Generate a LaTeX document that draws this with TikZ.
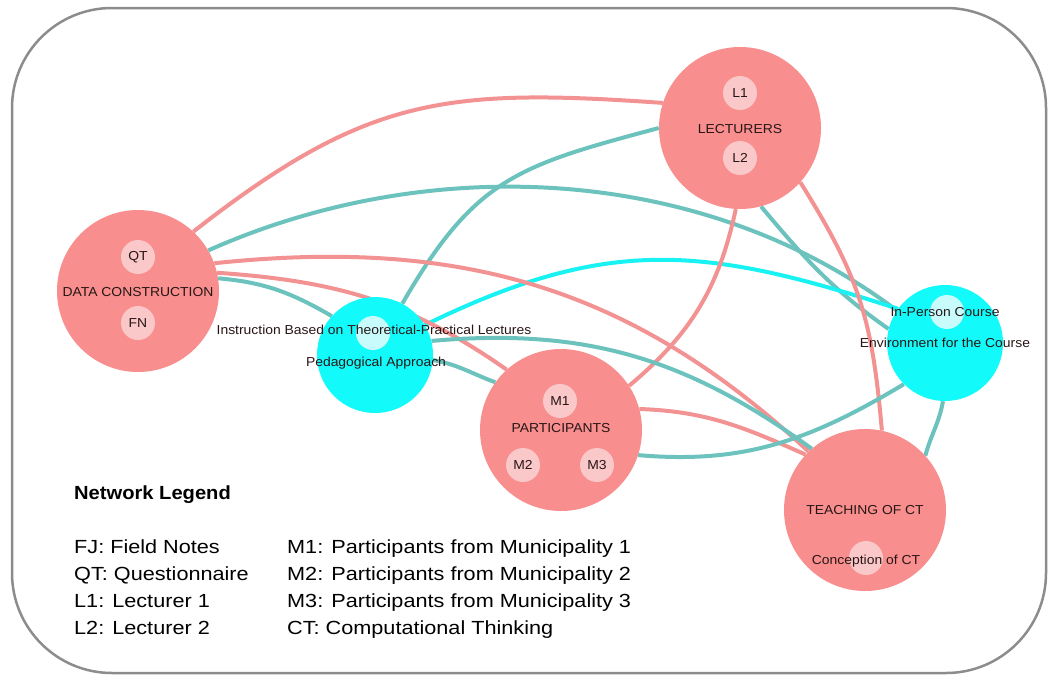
\documentclass[tikz,border=0pt]{standalone}
\usepackage{fontspec}
\setmainfont{Liberation Sans}
\newfontfamily\nodefont{Liberation Sans}[FakeStretch=1.07]
\newfontfamily\legfont{Liberation Sans}[FakeStretch=1.14]
\newfontfamily\legboldfont{Liberation Sans}[FakeStretch=1.06]
\usetikzlibrary{backgrounds}
\definecolor{salmon}{RGB}{248,142,142}
\definecolor{lpink}{RGB}{250,200,200}
\definecolor{cyanfill}{RGB}{18,250,250}
\definecolor{lcyan}{RGB}{200,252,252}
\definecolor{tealedge}{RGB}{108,194,189}
\definecolor{pinkedge}{RGB}{243,146,146}
\definecolor{cyanedge}{RGB}{25,242,242}
\definecolor{framegray}{RGB}{140,140,140}
\definecolor{labeltext}{RGB}{40,22,22}
\begin{document}
\begin{tikzpicture}[x=1pt,y=1pt,
  bignode/.style={circle,fill=salmon,minimum size=162pt,inner sep=0pt},
  cynode/.style={circle,fill=cyanfill,minimum size=116pt,inner sep=0pt},
  subpink/.style={circle,fill=lpink,minimum size=34pt,inner sep=0pt,text=labeltext,font=\nodefont\fontsize{13}{15}\selectfont},
  subcyan/.style={circle,fill=lcyan,minimum size=34pt,inner sep=0pt},
  lbl/.style={anchor=base,inner sep=0pt,text=labeltext,font=\nodefont\fontsize{13}{15}\selectfont},
  leg/.style={anchor=base west,inner sep=0pt,text=black,font=\legfont\fontsize{19}{22}\selectfont},
  legtitle/.style={anchor=base west,inner sep=0pt,text=black,font=\legboldfont\bfseries\fontsize{19}{22}\selectfont},
  tealline/.style={draw=tealedge,line width=4pt},
  pinkline/.style={draw=pinkedge,line width=4pt},
  cyanline/.style={draw=cyanedge,line width=4pt},
  frame/.style={draw=framegray,line width=2.5pt,rounded corners=100pt}
]
\useasboundingbox (0,0) rectangle (1056,-680);
\draw[frame] (12,-8) rectangle (1046,-673);

% main nodes
\node[bignode] (d) at (138,-291) {};
\node[bignode] (l) at (740,-128) {};
\node[cynode] (ped) at (375,-355) {};
\node[cynode] (ip) at (945,-343) {};
\node[bignode] (p) at (561,-430) {};
\node[bignode] (t) at (865,-510) {};

% sub nodes
\node[subpink] (qt) at (138,-257) {QT};
\node[subpink] (fn) at (138,-323) {FN};
\node[subpink] (l1) at (740,-93) {L1};
\node[subpink] (l2) at (740,-158) {L2};
\node[subpink] (m1) at (560,-401) {M1};
\node[subpink] (m2) at (523,-465) {M2};
\node[subpink] (m3) at (597,-465) {M3};
\node[subcyan] (pedsub) at (373,-333) {};
\node[subcyan] (ipsub) at (947,-312) {};
\node[subpink] (tsub) at (866,-558) {};

% labels
\node[lbl] (dlab) at (138,-296) {DATA CONSTRUCTION};
\node[lbl] (llab) at (740,-133) {LECTURERS};
\node[lbl] (plab) at (561,-432.5) {PARTICIPANTS};
\node[lbl] (tlab) at (865,-514) {TEACHING OF CT};
\node[lbl] (tcon) at (866,-564) {Conception of CT};
\node[lbl] (pedlab1) at (374,-334) {Instruction Based on Theoretical-Practical Lectures};
\node[lbl] (pedlab2) at (376,-366) {Pedagogical Approach};
\node[lbl] (iplab1) at (945,-316) {In-Person Course};
\node[lbl] (iplab2) at (945,-347.7) {Environment for the Course};

% edges
\begin{pgfonlayer}{background}
\draw[pinkline] (d.47) to[out=38,in=176,looseness=1.15] (l.162);
\draw[tealline] (d.30) to[out=24,in=143,looseness=0.9] (ip.146);
\draw[tealline] (d.9) to[out=-5,in=150] (ped.138);
\draw[tealline] (ped.62) to[out=60,in=195,looseness=1.2] (l.180);
\draw[tealline] (l.-75) to[out=-50,in=145] (ip.166);
\draw[cyanline] (ped.31) to[out=26,in=162,looseness=1.1] (ip.144);
\draw[pinkline] (d.20) to[out=6,in=137] (t.134);
\draw[pinkline] (d.13) to[out=-4,in=145] (p.132);
\draw[pinkline] (l.-93) to[out=-102,in=40] (p.33);
\draw[pinkline] (l.-42) to[out=-58,in=95,looseness=1.1] (t.78);
\draw[tealline] (ped.14) to[out=5,in=144] (t.131);
\draw[tealline] (ped.-5) to[out=-10,in=160] (p.144);
\draw[pinkline] (p.15) to[out=-2,in=156] (t.137);
\draw[tealline] (p.-18) to[out=-5,in=211] (ip.225);
\draw[tealline] (ip.-92) to[out=-100,in=75] (t.42);
\end{pgfonlayer}

% legend
\node[legtitle] (legtitle) at (74,-499) {Network Legend};
\node[leg] (lgfj) at (74,-553) {FJ: Field Notes};
\node[leg] (lgqt) at (74,-580) {QT: Questionnaire};
\node[leg] (lgl1) at (74,-607) {L1: Lecturer 1};
\node[leg] (lgl2) at (74,-634) {L2: Lecturer 2};
\node[leg] (lgm1) at (287,-553) {M1: Participants from Municipality 1};
\node[leg] (lgm2) at (287,-580) {M2: Participants from Municipality 2};
\node[leg] (lgm3) at (287,-607) {M3: Participants from Municipality 3};
\node[leg] (lgct) at (287,-634) {CT: Computational Thinking};
\end{tikzpicture}
\end{document}
